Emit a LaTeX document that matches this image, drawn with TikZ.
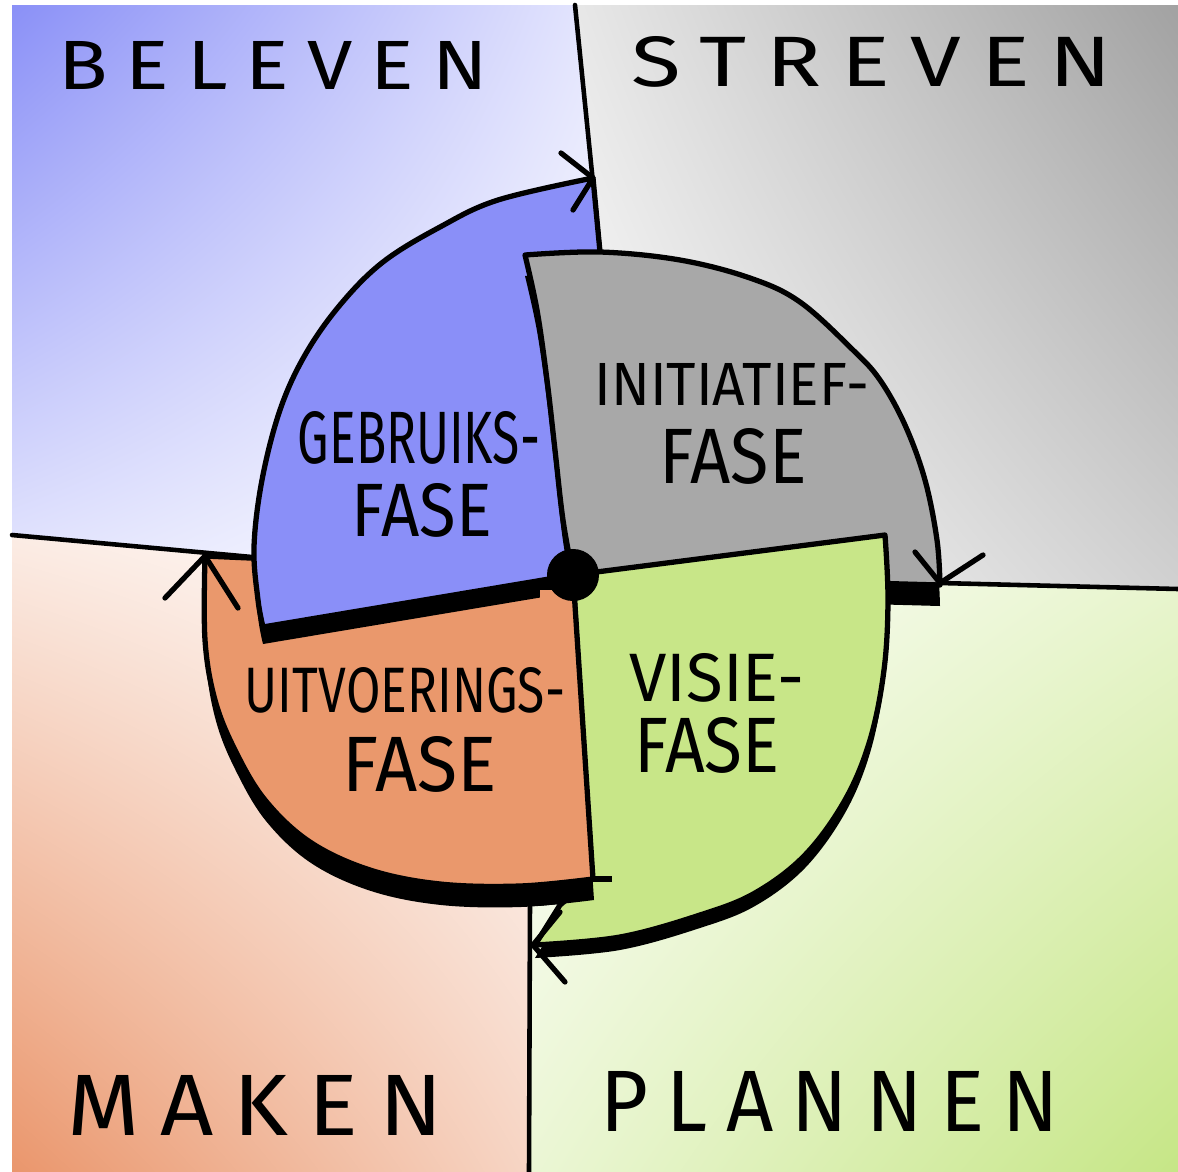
\documentclass[tikz,border=0pt]{standalone}
\usepackage{fontspec}
\setmainfont{Fira Sans}
\newfontfamily\spacedfont[LetterSpace=22]{Fira Sans}
\usepackage{graphicx}
\usetikzlibrary{shadings}
\definecolor{bgBlue}{RGB}{138,144,247}
\definecolor{secBlue}{RGB}{138,143,248}
\definecolor{secGray}{RGB}{168,168,168}
\definecolor{bgGray}{RGB}{162,162,162}
\definecolor{secGreen}{RGB}{200,230,136}
\definecolor{bgGreen}{RGB}{198,230,134}
\definecolor{secOrange}{RGB}{234,152,108}
\definecolor{bgOrange}{RGB}{234,150,108}
\begin{document}
\begin{tikzpicture}[x=0.01cm,y=-0.01cm]
\tikzset{
 outline/.style={draw=black, line width=1.5pt, line join=round},
 qline/.style={draw=black, line width=1.3pt, line cap=round},
 tipstroke/.style={draw=black, line width=1.5pt, line cap=round, line join=round},
 lbl/.style={inner sep=0pt},
 bluepath/.style={insert path={(573,575) -- (600,252) -- (593,178) -- plot[smooth,tension=0.6] coordinates {(593,178) (498,200) (440,227) (383,262) (340,305) (305,355) (280,410) (262,480) (254,547) (258,600) (263,627)} -- cycle}},
 graypath/.style={insert path={plot[smooth,tension=0.6] coordinates {(573,575) (563,520) (555,450) (547,380) (537,310) (525,255)} -- plot[smooth,tension=0.6] coordinates {(525,255) (600,252) (680,260) (750,278) (800,302) (853,350) (880,380) (905,425) (925,480) (937,540) (940,585)} -- cycle}},
 greenpath/.style={insert path={(573,575) -- (885,535) -- plot[smooth,tension=0.6] coordinates {(885,535) (888,600) (884,670) (870,740) (845,800) (805,855) (755,893) (700,915) (620,937) (535,945)} -- (560,905) -- (572,895) -- (588,840) -- cycle}},
 orangepath/.style={insert path={(573,575) -- (250,558) -- (205,556) -- plot[smooth,tension=0.6] coordinates {(205,556) (205,640) (215,700) (235,750) (265,800) (310,842) (370,870) (440,884) (520,886) (593,879)} -- cycle}},
}
\useasboundingbox (0,0) rectangle (1178,1172);
\fill[white] (0,0) rectangle (1178,1172);
% quadrant backgrounds
\shade[upper left=bgBlue, upper right=bgBlue!22!white, lower left=bgBlue!22!white, lower right=white]
  (12,5) -- (575,5) -- (600,252) -- (573,575) -- (250,557) -- (12,535) -- cycle;
\shade[upper left=bgGray!25!white, upper right=bgGray, lower left=white, lower right=bgGray!50!white]
  (575,5) -- (1178,5) -- (1178,589) -- (940,583) -- (573,575) -- (600,252) -- cycle;
\shade[upper left=bgOrange!18!white, upper right=white, lower left=bgOrange, lower right=bgOrange!35!white]
  (12,535) -- (250,557) -- (573,575) -- (530,903) -- (529,1172) -- (12,1172) -- cycle;
\shade[upper left=white, upper right=bgGreen!40!white, lower left=bgGreen!35!white, lower right=bgGreen]
  (573,575) -- (940,583) -- (1178,589) -- (1178,1172) -- (529,1172) -- (530,903) -- cycle;
% quadrant dividing lines
\draw[qline] (575,5) -- (600,252);
\draw[qline] (12,535) -- (252,557);
\draw[qline] (940,583) -- (1178,589);
\draw[qline] (530,903) -- (529,1172);
% orange sector
\fill[black, shift={(1,21)}, orangepath];
\path[fill=secOrange, outline, orangepath];
% blue sector
\fill[black, shift={(0,17)}, bluepath];
\path[fill=secBlue, outline, bluepath];
% gray sector
\fill[black, shift={(0,21)}, graypath];
\path[fill=secGray, outline, graypath];
% green sector
\fill[black, shift={(0,13)}, greenpath];
\path[fill=secGreen, outline, greenpath];
% orange lies on green along their common edge
\begin{scope}
\clip (540,590) rectangle (660,908);
\fill[black, shift={(1,21)}, orangepath];
\path[fill=secOrange, outline, orangepath];
\end{scope}
\draw[outline] (593,879) -- (612,879);
% arrowheads
\draw[tipstroke] (561,153) -- (593,178) -- (573,210);
\draw[tipstroke] (915,552) -- (940,583) -- (983,555);
\draw[tipstroke] (560,912) -- (533,945) -- (565,982);
\draw[tipstroke] (165,598) -- (205,556) -- (238,608);
% hub
\node[circle, fill=black, minimum size=0.52cm, inner sep=0pt] (hub) at (573,575) {};
% quadrant labels
\node[lbl] (beleven) at (273,65) {\resizebox{4.29cm}{0.48cm}{\spacedfont BELEVEN}};
\node[lbl] (streven) at (872,62) {\resizebox{4.80cm}{0.50cm}{\spacedfont STREVEN}};
\node[lbl] (maken) at (255,1105) {\resizebox{3.75cm}{0.60cm}{\spacedfont MAKEN}};
\node[lbl] (plannen) at (830,1101) {\resizebox{4.58cm}{0.60cm}{\spacedfont PLANNEN}};
% phase labels
\node[lbl] (gebruiks) at (419,438) {\resizebox{2.42cm}{0.52cm}{GEBRUIKS-}};
\node[lbl] (faseA) at (422,510) {\resizebox{1.40cm}{0.53cm}{FASE}};
\node[lbl] (initiatief) at (732,384) {\resizebox{2.75cm}{0.42cm}{INITIATIEF-}};
\node[lbl] (faseB) at (733,456) {\resizebox{1.47cm}{0.55cm}{FASE}};
\node[lbl] (visie) at (717,678) {\resizebox{1.75cm}{0.48cm}{VISIE-}};
\node[lbl] (faseC) at (707,745) {\resizebox{1.45cm}{0.55cm}{FASE}};
\node[lbl] (uitvoerings) at (405,690) {\resizebox{3.20cm}{0.45cm}{UITVOERINGS-}};
\node[lbl] (faseD) at (420,764) {\resizebox{1.54cm}{0.55cm}{FASE}};
\end{tikzpicture}
\end{document}
